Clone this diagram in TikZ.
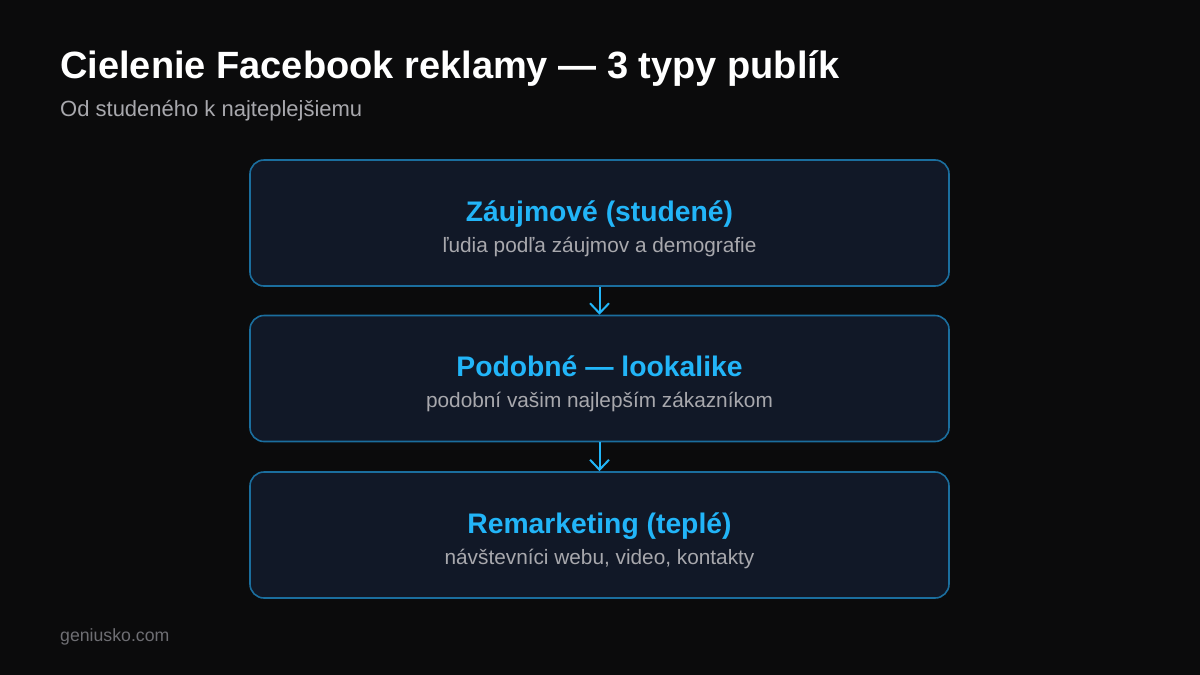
\documentclass[tikz,border=0pt]{standalone}
\usepackage{fontspec}
\setmainfont{Liberation Sans}
\usetikzlibrary{arrows.meta}
\definecolor{bg}{HTML}{0B0B0C}
\definecolor{boxfill}{HTML}{111827}
\definecolor{boxline}{HTML}{1B6E9E}
\definecolor{accent}{HTML}{22B5F8}
\definecolor{subgray}{HTML}{A8A8AD}
\definecolor{footgray}{HTML}{6E6E73}
\tikzset{
  stage/.style={draw=boxline, line width=1.6pt, fill=boxfill, rounded corners=14pt, minimum width=699pt, minimum height=126pt, inner sep=0pt},
  stagetitle/.style={text=accent, font=\bfseries\fontsize{28.3}{31}\selectfont, anchor=base},
  stagesub/.style={text=subgray, font=\fontsize{20.8}{24}\selectfont, anchor=base},
  flow/.style={draw=accent, line width=2pt, -{Straight Barb[length=10pt,width=19pt,line width=2pt]}}
}
\begin{document}
\begin{tikzpicture}[x=1pt,y=-1pt]
\fill[bg] (0,0) rectangle (1200,675);
\useasboundingbox (0,0) rectangle (1200,675);
\node[anchor=base west, text=white, font=\bfseries\fontsize{38}{42}\selectfont, inner sep=0pt] (title) at (60,78) {Cielenie Facebook reklamy — 3 typy publík};
\node[anchor=base west, text=subgray, font=\fontsize{22}{24}\selectfont, inner sep=0pt] (subtitle) at (60,116) {Od studeného k najteplejšiemu};

\node[stage] (b1) at (599.5,223) {};
\node[stage] (b2) at (599.5,378.5) {};
\node[stage] (b3) at (599.5,535) {};

\node[stagetitle] (t1) at (599.5,221) {Záujmové (studené)};
\node[stagesub] (s1) at (599.5,252) {ľudia podľa záujmov a demografie};
\node[stagetitle] (t2) at (599.5,376.5) {Podobné — lookalike};
\node[stagesub] (s2) at (599.5,407.5) {podobní vašim najlepším zákazníkom};
\node[stagetitle] (t3) at (599.5,533) {Remarketing (teplé)};
\node[stagesub] (s3) at (599.5,564) {návštevníci webu, video, kontakty};

\draw[flow] (b1.south) -- (b2.north);
\draw[flow] (b2.south) -- (b3.north);

\node[anchor=base west, text=footgray, font=\fontsize{17.7}{20}\selectfont, inner sep=0pt] (foot) at (60,641) {geniusko.com};
\end{tikzpicture}
\end{document}
